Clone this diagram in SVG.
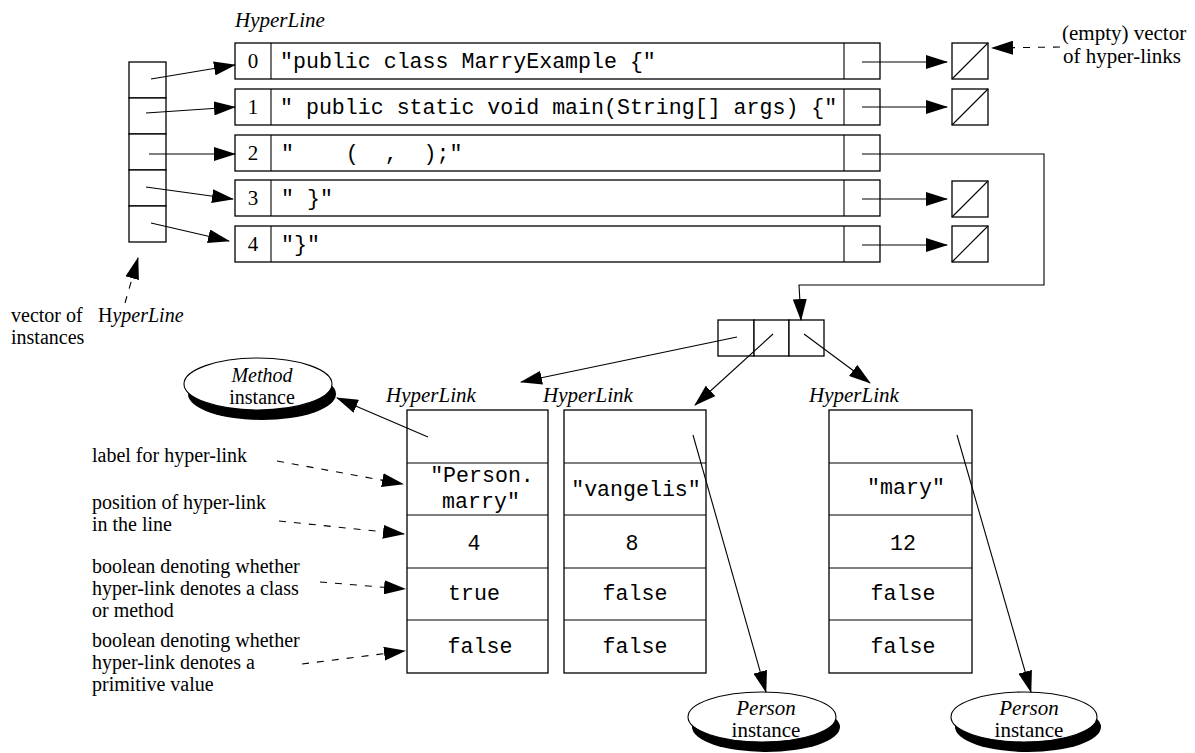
<svg xmlns="http://www.w3.org/2000/svg" width="1195" height="753" viewBox="0 0 1195 753">
<style>
.bx{fill:#fff;stroke:#000;stroke-width:1.3}
.ln{fill:none;stroke:#000;stroke-width:1.1}
.dl{fill:none;stroke:#000;stroke-width:1.1;stroke-dasharray:7 8}
.sf{font-family:"Liberation Serif","Times New Roman",serif;font-size:21px;fill:#000}
.an{font-size:20px}
.it{font-style:italic}
.mo{font-family:"Liberation Mono","Courier New",monospace;font-size:21.6px;fill:#000;white-space:pre}
.mid{text-anchor:middle}
</style>
<defs>
<marker id="ah" markerUnits="userSpaceOnUse" markerWidth="22" markerHeight="14" viewBox="0 0 22 14" refX="21" refY="7" orient="auto">
<path d="M0,0 L22,7 L0,14 z" fill="#000"/>
</marker>
</defs>

<!-- HyperLine vector -->
<g id="hyperline-vector">
<rect class="bx" x="129" y="62" width="37" height="36"/>
<rect class="bx" x="129" y="98" width="37" height="36"/>
<rect class="bx" x="129" y="134" width="37" height="36"/>
<rect class="bx" x="129" y="170" width="37" height="36"/>
<rect class="bx" x="129" y="206" width="37" height="36"/>
</g>

<text class="sf it" x="235" y="27">HyperLine</text>

<!-- HyperLine rows -->
<g id="row0">
<rect class="bx" x="235" y="43" width="645" height="36"/>
<line class="ln" x1="271" y1="43" x2="271" y2="79"/>
<line class="ln" x1="844" y1="43" x2="844" y2="79"/>
<text class="sf mid" x="253" y="68">0</text>
<text class="mo" x="280" y="68" xml:space="preserve">"public class MarryExample {"</text>
</g>
<g id="row1">
<rect class="bx" x="235" y="89" width="645" height="36"/>
<line class="ln" x1="271" y1="89" x2="271" y2="125"/>
<line class="ln" x1="844" y1="89" x2="844" y2="125"/>
<text class="sf mid" x="253" y="114">1</text>
<text class="mo" x="280" y="114" xml:space="preserve">" public static void main(String[] args) {"</text>
</g>
<g id="row2">
<rect class="bx" x="235" y="135" width="645" height="36"/>
<line class="ln" x1="271" y1="135" x2="271" y2="171"/>
<line class="ln" x1="844" y1="135" x2="844" y2="171"/>
<text class="sf mid" x="253" y="160">2</text>
<text class="mo" x="281" y="160" xml:space="preserve">"    (  ,  );"</text>
</g>
<g id="row3">
<rect class="bx" x="235" y="180" width="645" height="36"/>
<line class="ln" x1="271" y1="180" x2="271" y2="216"/>
<line class="ln" x1="844" y1="180" x2="844" y2="216"/>
<text class="sf mid" x="253" y="205">3</text>
<text class="mo" x="281" y="205" xml:space="preserve">" }"</text>
</g>
<g id="row4">
<rect class="bx" x="235" y="226" width="645" height="36"/>
<line class="ln" x1="271" y1="226" x2="271" y2="262"/>
<line class="ln" x1="844" y1="226" x2="844" y2="262"/>
<text class="sf mid" x="253" y="251">4</text>
<text class="mo" x="281" y="251" xml:space="preserve">"}"</text>
</g>

<!-- empty vectors -->
<g id="empty0"><rect class="bx" x="952" y="43" width="36" height="36"/><line class="ln" x1="952" y1="79" x2="988" y2="43"/></g>
<g id="empty1"><rect class="bx" x="952" y="89" width="36" height="36"/><line class="ln" x1="952" y1="125" x2="988" y2="89"/></g>
<g id="empty3"><rect class="bx" x="952" y="181" width="36" height="36"/><line class="ln" x1="952" y1="217" x2="988" y2="181"/></g>
<g id="empty4"><rect class="bx" x="952" y="226" width="36" height="36"/><line class="ln" x1="952" y1="262" x2="988" y2="226"/></g>

<g id="empty-label">
<text class="sf" x="1062" y="40">(empty) vector</text>
<text class="sf" x="1063" y="62.5">of hyper-links</text>
</g>

<g id="vector-label">
<text class="sf an" x="11" y="322">vector of  <tspan x="98">H</tspan><tspan class="it">yperLine</tspan></text>
<text class="sf an" x="11" y="344.2">instances</text>
</g>

<!-- link vector of line 2 -->
<g id="link-vector">
<rect class="bx" x="718" y="320" width="36" height="36"/>
<rect class="bx" x="754" y="320" width="35" height="36"/>
<rect class="bx" x="789" y="320" width="35" height="36"/>
</g>

<!-- HyperLink tables -->
<g id="hyperlink1">
<text class="sf it" x="386" y="402">HyperLink</text>
<rect class="bx" x="407" y="410" width="141" height="263"/>
<line class="ln" x1="407" y1="463" x2="548" y2="463"/>
<line class="ln" x1="407" y1="515" x2="548" y2="515"/>
<line class="ln" x1="407" y1="568" x2="548" y2="568"/>
<line class="ln" x1="407" y1="620" x2="548" y2="620"/>
<text class="mo mid" x="482" y="482">"Person.</text>
<text class="mo mid" x="481" y="508">marry"</text>
<text class="mo mid" x="474" y="550">4</text>
<text class="mo mid" x="474" y="600">true</text>
<text class="mo mid" x="480" y="653">false</text>
</g>
<g id="hyperlink2">
<text class="sf it" x="543" y="402">HyperLink</text>
<rect class="bx" x="564" y="410" width="142" height="263"/>
<line class="ln" x1="564" y1="463" x2="706" y2="463"/>
<line class="ln" x1="564" y1="515" x2="706" y2="515"/>
<line class="ln" x1="564" y1="568" x2="706" y2="568"/>
<line class="ln" x1="564" y1="620" x2="706" y2="620"/>
<text class="mo mid" x="636" y="496">"vangelis"</text>
<text class="mo mid" x="632" y="550">8</text>
<text class="mo mid" x="635" y="600">false</text>
<text class="mo mid" x="635" y="653">false</text>
</g>
<g id="hyperlink3">
<text class="sf it" x="809" y="402">HyperLink</text>
<rect class="bx" x="829" y="410" width="143" height="263"/>
<line class="ln" x1="829" y1="463" x2="972" y2="463"/>
<line class="ln" x1="829" y1="515" x2="972" y2="515"/>
<line class="ln" x1="829" y1="568" x2="972" y2="568"/>
<line class="ln" x1="829" y1="620" x2="972" y2="620"/>
<text class="mo mid" x="906" y="494">"mary"</text>
<text class="mo mid" x="903" y="550">12</text>
<text class="mo mid" x="903" y="600">false</text>
<text class="mo mid" x="903" y="653">false</text>
</g>

<!-- instance ellipses -->
<g id="method-instance">
<ellipse cx="262" cy="394" rx="74" ry="26" fill="#000"/>
<ellipse cx="258" cy="384" rx="74" ry="26" fill="#fff" stroke="#000" stroke-width="1.1"/>
<text class="sf an it mid" x="262" y="381.5">Method</text>
<text class="sf an mid" x="262" y="403.8">instance</text>
</g>
<g id="person1">
<ellipse cx="766" cy="727" rx="74" ry="25" fill="#000"/>
<ellipse cx="762" cy="717" rx="74" ry="25" fill="#fff" stroke="#000" stroke-width="1.1"/>
<text class="sf it mid" x="766" y="715">Person</text>
<text class="sf mid" x="766" y="737">instance</text>
</g>
<g id="person2">
<ellipse cx="1028" cy="727" rx="73" ry="25" fill="#000"/>
<ellipse cx="1024" cy="717" rx="73" ry="25" fill="#fff" stroke="#000" stroke-width="1.1"/>
<text class="sf it mid" x="1029" y="715">Person</text>
<text class="sf mid" x="1029" y="737">instance</text>
</g>

<!-- annotation labels -->
<g id="annotations">
<text class="sf an" x="92" y="462">label for hyper-link</text>
<text class="sf an" x="92" y="509">position of hyper-link</text>
<text class="sf an" x="92" y="531.2">in the line</text>
<text class="sf an" x="92" y="573">boolean denoting whether</text>
<text class="sf an" x="92" y="595.2">hyper-link denotes a class</text>
<text class="sf an" x="92" y="617.4">or method</text>
<text class="sf an" x="92" y="647">boolean denoting whether</text>
<text class="sf an" x="92" y="669.2">hyper-link denotes a</text>
<text class="sf an" x="92" y="691.4">primitive value</text>
</g>

<!-- connectors -->
<g id="connectors">
<line class="ln" x1="151" y1="79" x2="235" y2="65" marker-end="url(#ah)"/>
<line class="ln" x1="146" y1="113" x2="235" y2="107" marker-end="url(#ah)"/>
<line class="ln" x1="149" y1="154" x2="235" y2="154" marker-end="url(#ah)"/>
<line class="ln" x1="146" y1="187" x2="233" y2="199" marker-end="url(#ah)"/>
<line class="ln" x1="151" y1="223" x2="229" y2="241" marker-end="url(#ah)"/>

<line class="ln" x1="862" y1="62" x2="947" y2="62" marker-end="url(#ah)"/>
<line class="ln" x1="862" y1="107" x2="947" y2="107" marker-end="url(#ah)"/>
<line class="ln" x1="862" y1="199" x2="947" y2="199" marker-end="url(#ah)"/>
<line class="ln" x1="862" y1="245" x2="947" y2="245" marker-end="url(#ah)"/>

<polyline class="ln" points="862,154 1044,154 1044,285 799,285 801,320" marker-end="url(#ah)"/>

<line class="ln" x1="737" y1="337" x2="521" y2="382" marker-end="url(#ah)"/>
<line class="ln" x1="773" y1="334" x2="695" y2="405" marker-end="url(#ah)"/>
<line class="ln" x1="804" y1="334" x2="870" y2="383" marker-end="url(#ah)"/>

<line class="ln" x1="428" y1="437" x2="337" y2="398" marker-end="url(#ah)"/>
<line class="ln" x1="693" y1="435" x2="766" y2="692" marker-end="url(#ah)"/>
<line class="ln" x1="957" y1="435" x2="1031" y2="692" marker-end="url(#ah)"/>

<line class="dl" x1="1060" y1="47" x2="992" y2="48" marker-end="url(#ah)"/>
<line class="dl" x1="125" y1="303" x2="138" y2="258" marker-end="url(#ah)"/>
<line class="dl" x1="277" y1="461" x2="403" y2="484" marker-end="url(#ah)"/>
<line class="dl" x1="279" y1="521" x2="404" y2="534" marker-end="url(#ah)"/>
<line class="dl" x1="320" y1="582" x2="405" y2="589" marker-end="url(#ah)"/>
<line class="dl" x1="302" y1="664" x2="405" y2="651" marker-end="url(#ah)"/>
</g>
</svg>
